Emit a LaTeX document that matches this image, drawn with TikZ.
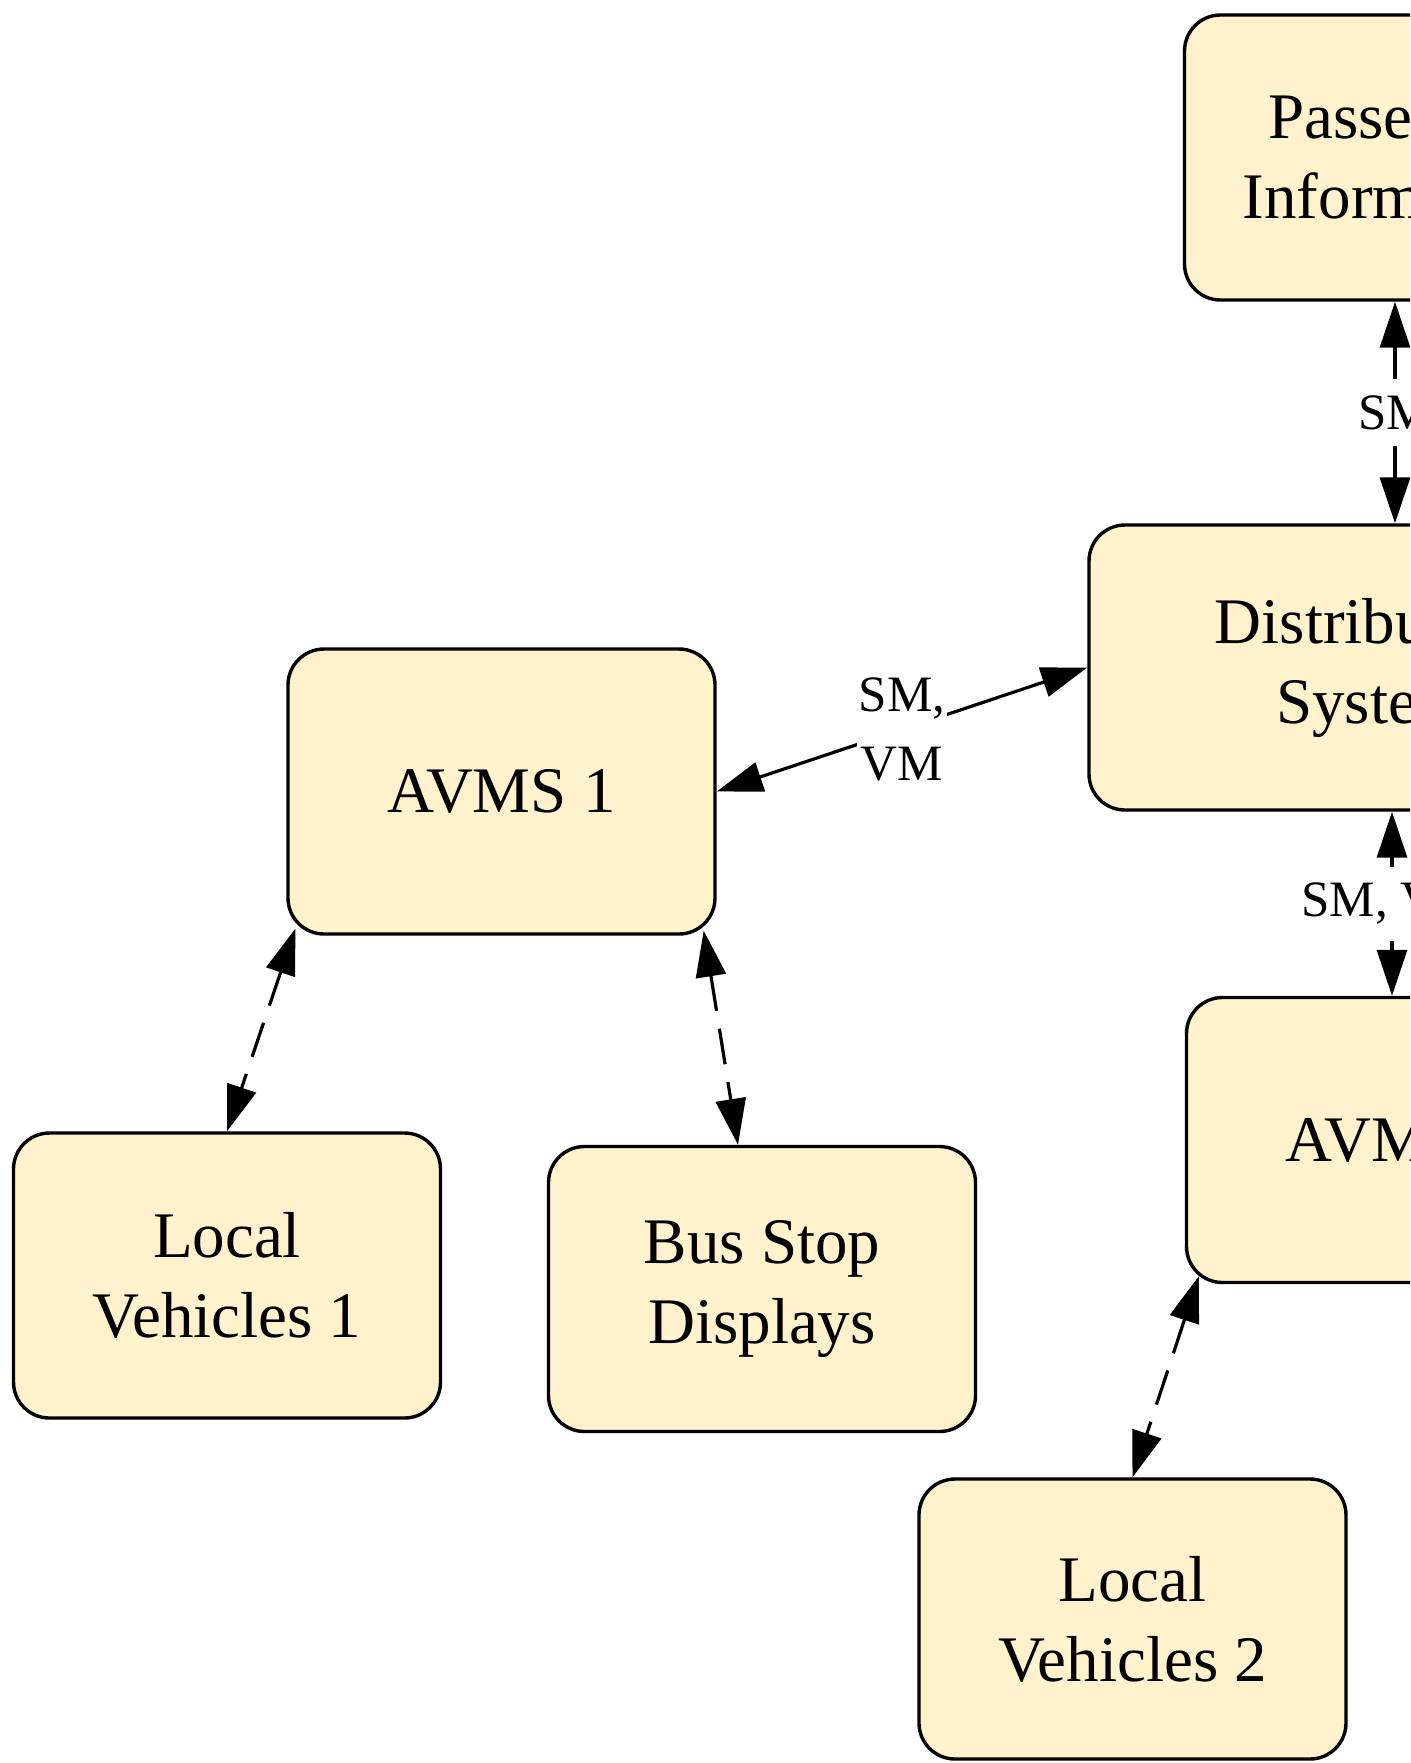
\documentclass[tikz,border=0pt]{standalone}
\usepackage{fontspec}
\setmainfont{Liberation Serif}
\usetikzlibrary{arrows.meta}
\definecolor{boxfill}{RGB}{255,242,204}

\begin{document}
\begin{tikzpicture}[x=0.5pt,y=-0.5pt,
  box/.style={draw,line width=1.7pt,fill=boxfill,rounded corners=18pt,minimum width=213.5pt,minimum height=142.5pt,inner sep=0pt,align=center,font=\fontsize{32.5}{40}\selectfont},
  link/.style={line width=1.6pt,{Triangle[length=23pt,width=15pt]}-{Triangle[length=23pt,width=15pt]}},
  dashlink/.style={link,dash pattern=on 18pt off 9pt},
  lbl/.style={fill=white,inner xsep=1pt,inner ysep=8pt,align=center,font=\fontsize{25.5}{34.5}\selectfont}]

%Frame of the picture, cut at the right and bottom edges
\useasboundingbox (0,0) rectangle (1410,1763);
\clip (0,0) rectangle (1410,1763);

%Boxes
\node[box] (pass) at (1398,157.5) {Passenger\\Information};
\node[box,minimum width=283pt] (dist) at (1372,667.5) {Distribution\\System};
\node[box] (avms1) at (501.5,791.5) {AVMS 1};
\node[box] (avms2) at (1400,1140) {AVMS 2};
\node[box] (lv1) at (227,1275.5) {Local\\Vehicles 1};
\node[box] (bus) at (762,1289) {Bus Stop\\Displays};
\node[box,minimum height=140pt] (lv2) at (1132.5,1619) {Local\\Vehicles 2};

%Message links
\draw[link] ([xshift=-1.5pt]pass.south) -- node[lbl] {SM} ([xshift=-1.5pt]pass.south |- dist.north);
\draw[link] ([xshift=-4pt]avms2.north |- dist.south) -- node[lbl] {SM, VM} ([xshift=-4pt]avms2.north);
\draw[link] (avms1.east) -- node[lbl,inner ysep=1pt] {SM,\\VM} (dist.west);

%Local links
\draw[dashlink] ([xshift=4.5pt,yshift=3.5pt]avms1.south west) -- (lv1.north);
\draw[dashlink] ([xshift=-6.5pt,yshift=2.5pt]avms1.south east) -- ([xshift=-12pt]bus.north);
\draw[dashlink] ([xshift=7pt,yshift=4pt]avms2.south west) -- (lv2.north);

\end{tikzpicture}
\end{document}
